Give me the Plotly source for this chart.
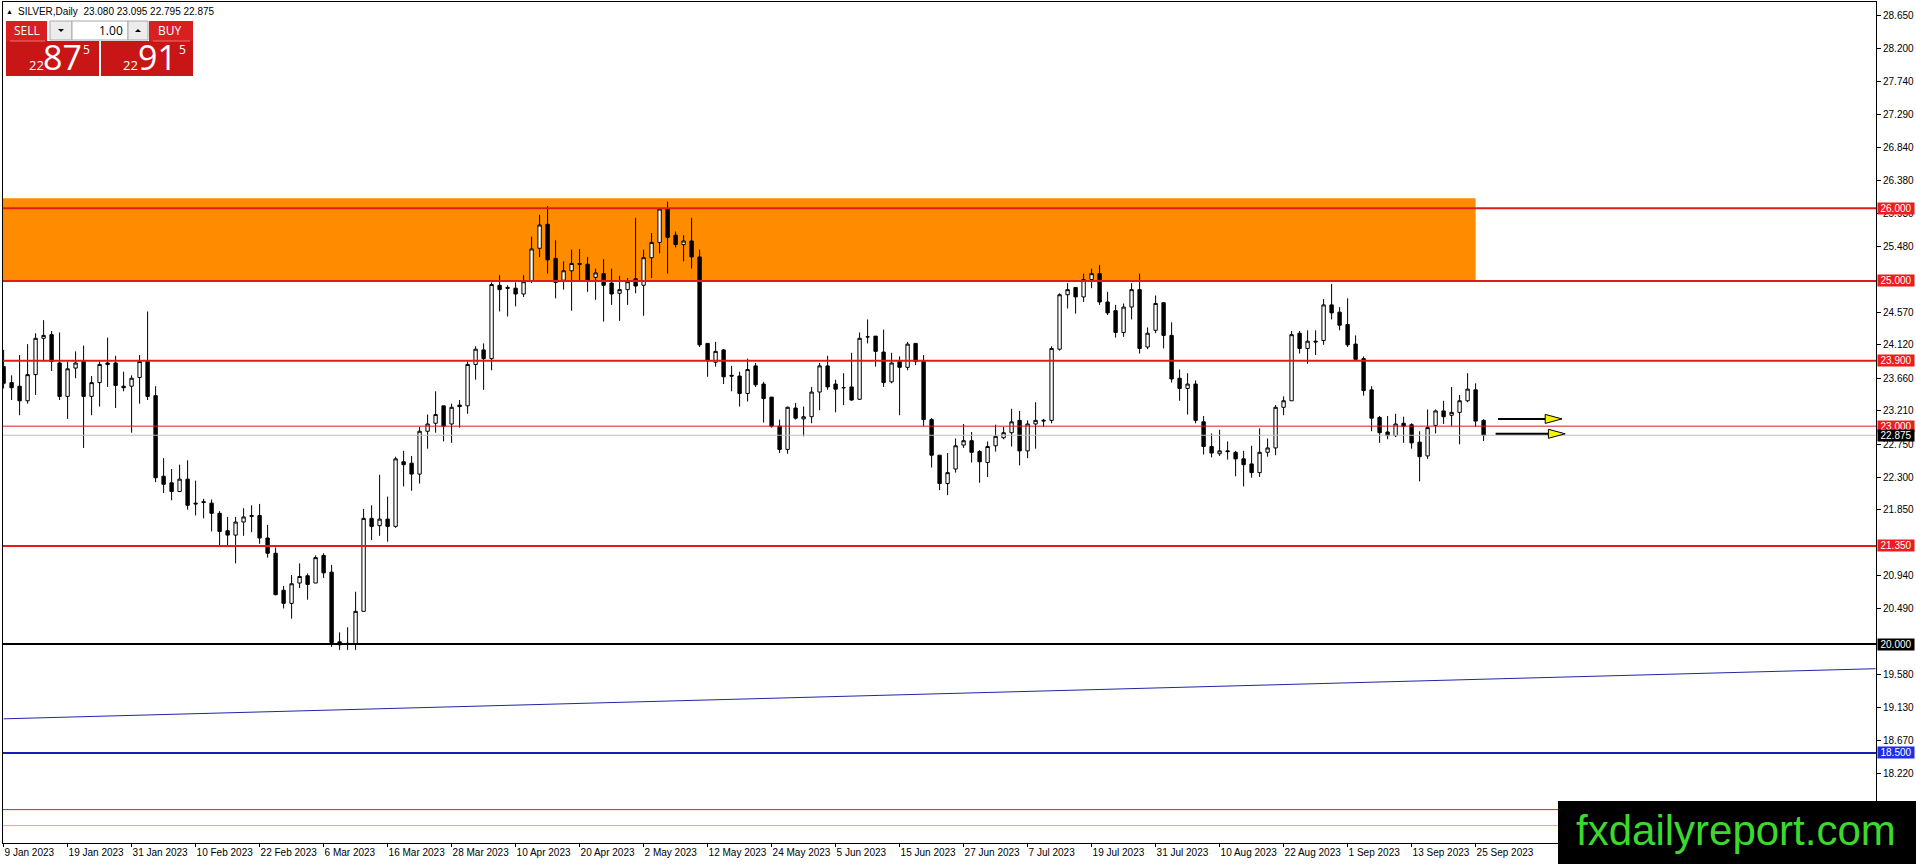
import plotly.graph_objects as go

# ---------------- data ----------------
tick_labels = ["9 Jan 2023", "19 Jan 2023", "31 Jan 2023", "10 Feb 2023", "22 Feb 2023",
               "6 Mar 2023", "16 Mar 2023", "28 Mar 2023", "10 Apr 2023", "20 Apr 2023",
               "2 May 2023", "12 May 2023", "24 May 2023", "5 Jun 2023", "15 Jun 2023",
               "27 Jun 2023", "7 Jul 2023", "19 Jul 2023", "31 Jul 2023", "10 Aug 2023",
               "22 Aug 2023", "1 Sep 2023", "13 Sep 2023", "25 Sep 2023"]
bars_per_label = 8

opens = [23.82, 23.60, 23.55, 23.35, 23.71, 24.21, 24.26, 23.87, 23.41, 23.80,
         23.89, 23.41, 23.60, 23.87, 23.87, 23.55, 23.55, 23.67, 23.89, 23.42,
         22.31, 22.22, 22.10, 22.27, 21.94, 21.96, 21.94, 21.80, 21.56, 21.50,
         21.68, 21.77, 21.77, 21.46, 21.25, 20.74, 20.56, 20.84, 20.94, 20.84,
         21.22, 20.99, 20.03, 20.01, 20.00, 20.45, 21.73, 21.63, 21.72, 21.62,
         22.51, 22.49, 22.34, 22.93, 23.04, 23.28, 23.03, 23.29, 23.28, 23.85,
         24.05, 23.93, 24.94, 24.91, 24.90, 24.82, 25.00, 25.45, 25.78, 25.31,
         25.01, 25.14, 25.24, 25.23, 25.05, 25.10, 24.97, 24.83, 24.88, 25.03,
         24.94, 25.32, 25.53, 25.99, 25.63, 25.50, 25.55, 25.33, 24.14, 23.88,
         24.05, 23.70, 23.69, 23.45, 23.83, 23.58, 23.40, 23.00, 22.68, 23.25,
         23.10, 23.13, 23.47, 23.83, 23.58, 23.53, 23.54, 23.37, 24.23, 24.24,
         24.02, 23.61, 23.89, 23.81, 24.14, 23.89, 23.09, 22.60, 22.21, 22.41,
         22.74, 22.80, 22.65, 22.50, 22.73, 22.84, 22.91, 23.08, 22.66, 23.03,
         23.07, 23.08, 24.06, 24.81, 24.91, 24.78, 25.02, 25.10, 24.71, 24.59,
         24.29, 24.64, 24.88, 24.09, 24.32, 24.70, 24.25, 23.66, 23.52, 23.58,
         23.06, 22.72, 22.62, 22.66, 22.64, 22.55, 22.48, 22.36, 22.64, 22.70,
         23.26, 23.35, 24.28, 24.07, 24.17, 24.18, 24.67, 24.57, 24.40, 24.13,
         23.93, 23.50, 23.12, 22.92, 22.87, 23.04, 23.02, 22.78, 22.59, 23.01,
         23.21, 23.15, 23.19, 23.35, 23.50, 23.080]
highs = [24.05, 23.70, 23.98, 24.13, 24.28, 24.46, 24.31, 24.29, 23.89, 24.03,
         24.11, 23.69, 23.89, 24.22, 23.97, 23.75, 23.70, 23.98, 24.58, 23.55,
         22.56, 22.41, 22.47, 22.53, 22.25, 22.00, 21.99, 21.83, 21.75, 21.75,
         21.87, 21.91, 21.93, 21.64, 21.33, 20.80, 20.95, 21.11, 20.97, 21.22,
         21.25, 21.09, 20.16, 20.23, 20.72, 21.86, 21.91, 22.33, 22.03, 22.58,
         22.66, 22.59, 22.99, 23.16, 23.48, 23.28, 23.31, 23.36, 23.89, 24.10,
         24.14, 24.98, 25.08, 24.94, 24.98, 25.08, 25.61, 25.91, 26.03, 25.56,
         25.27, 25.43, 25.44, 25.33, 25.17, 25.30, 25.17, 25.07, 25.04, 25.87,
         25.43, 25.66, 26.00, 26.09, 25.68, 25.63, 25.87, 25.43, 24.14, 24.16,
         24.06, 23.83, 23.75, 23.93, 23.87, 23.61, 23.40, 23.09, 23.27, 23.32,
         23.27, 23.54, 23.87, 23.97, 23.64, 23.73, 24.01, 24.29, 24.47, 24.24,
         24.33, 24.01, 23.96, 24.16, 24.14, 23.98, 23.11, 22.60, 22.63, 22.83,
         23.03, 22.92, 22.67, 22.79, 23.02, 22.99, 23.24, 23.21, 23.08, 23.33,
         23.10, 24.10, 24.83, 24.97, 24.91, 25.10, 25.17, 25.22, 24.85, 24.67,
         24.69, 24.97, 25.10, 24.36, 24.80, 24.71, 24.43, 23.78, 23.73, 23.63,
         23.14, 22.90, 22.95, 22.79, 22.66, 22.66, 22.73, 22.97, 22.83, 23.29,
         23.41, 24.31, 24.31, 24.32, 24.32, 24.75, 24.96, 24.64, 24.76, 24.25,
         23.96, 23.55, 23.14, 23.14, 23.17, 23.13, 23.04, 22.93, 23.23, 23.23,
         23.35, 23.54, 23.43, 23.73, 23.59, 23.095]
lows = [23.52, 23.36, 23.15, 23.31, 23.43, 23.89, 23.76, 23.36, 23.10, 23.66,
        22.70, 23.15, 23.27, 23.54, 23.25, 23.48, 22.91, 23.31, 23.36, 22.23,
        22.08, 21.98, 22.10, 21.85, 21.77, 21.73, 21.55, 21.35, 21.35, 21.11,
        21.49, 21.54, 21.38, 21.19, 20.67, 20.49, 20.35, 20.77, 20.61, 20.84,
        20.91, 19.96, 19.92, 19.92, 19.92, 20.45, 21.43, 21.49, 21.41, 21.60,
        22.17, 22.11, 22.21, 22.69, 22.91, 22.79, 22.77, 22.98, 23.17, 23.64,
        23.50, 23.77, 24.58, 24.51, 24.65, 24.78, 24.97, 25.33, 25.10, 24.76,
        24.88, 24.59, 25.01, 24.85, 24.74, 24.44, 24.67, 24.45, 24.67, 24.83,
        24.52, 25.04, 25.38, 25.10, 25.46, 25.27, 25.17, 24.09, 23.68, 23.82,
        23.58, 23.48, 23.27, 23.34, 23.54, 23.05, 22.98, 22.63, 22.62, 23.09,
        22.86, 23.04, 23.22, 23.50, 23.19, 23.29, 23.35, 23.36, 24.14, 23.82,
        23.54, 23.59, 23.15, 23.77, 23.84, 23.00, 22.43, 22.12, 22.05, 22.36,
        22.70, 22.50, 22.22, 22.30, 22.65, 22.82, 22.72, 22.46, 22.56, 22.69,
        22.99, 23.04, 24.04, 24.62, 24.55, 24.71, 24.90, 24.67, 24.53, 24.22,
        24.23, 24.47, 24.00, 24.06, 24.28, 24.07, 23.60, 23.35, 23.16, 23.04,
        22.61, 22.57, 22.59, 22.54, 22.31, 22.17, 22.29, 22.30, 22.58, 22.60,
        23.15, 23.35, 24.00, 23.86, 23.98, 24.12, 24.47, 24.32, 24.09, 23.91,
        23.42, 22.93, 22.77, 22.82, 22.85, 22.77, 22.69, 22.24, 22.55, 22.90,
        23.03, 23.00, 22.75, 23.33, 22.99, 22.795]
closes = [23.59, 23.53, 23.35, 23.71, 24.21, 24.25, 23.89, 23.41, 23.79, 23.87,
          23.41, 23.60, 23.85, 23.85, 23.56, 23.53, 23.66, 23.89, 23.41, 22.29,
          22.20, 22.10, 22.27, 21.91, 21.93, 21.95, 21.80, 21.55, 21.50, 21.68,
          21.75, 21.76, 21.46, 21.25, 20.68, 20.56, 20.83, 20.93, 20.82, 21.19,
          20.98, 20.02, 19.99, 20.00, 20.45, 21.73, 21.62, 21.72, 21.62, 22.55,
          22.47, 22.34, 22.93, 23.03, 23.16, 23.00, 23.26, 23.27, 23.85, 24.06,
          23.93, 24.95, 24.88, 24.90, 24.82, 24.99, 25.44, 25.77, 25.29, 24.98,
          25.14, 25.24, 25.23, 25.00, 25.11, 24.94, 24.82, 24.88, 24.99, 24.93,
          25.32, 25.53, 25.99, 25.60, 25.50, 25.55, 25.33, 24.12, 23.90, 24.03,
          23.68, 23.69, 23.45, 23.78, 23.57, 23.38, 23.00, 22.68, 23.26, 23.11,
          23.13, 23.47, 23.83, 23.54, 23.51, 23.53, 23.36, 24.21, 24.23, 24.03,
          23.60, 23.87, 23.81, 24.13, 23.89, 23.09, 22.60, 22.21, 22.36, 22.73,
          22.80, 22.64, 22.51, 22.72, 22.86, 22.91, 23.06, 22.66, 23.03, 23.08,
          23.08, 24.07, 24.81, 24.88, 24.78, 25.02, 25.10, 24.71, 24.56, 24.29,
          24.64, 24.88, 24.07, 24.28, 24.69, 24.25, 23.65, 23.52, 23.58, 23.08,
          22.72, 22.63, 22.66, 22.65, 22.55, 22.47, 22.36, 22.64, 22.70, 23.26,
          23.35, 24.26, 24.07, 24.17, 24.16, 24.67, 24.56, 24.39, 24.12, 23.92,
          23.49, 23.11, 22.91, 22.87, 23.03, 23.00, 22.77, 22.58, 22.98, 23.21,
          23.13, 23.19, 23.35, 23.51, 23.07, 22.875]

y_ticks = [28.65, 28.20, 27.74, 27.29, 26.84, 26.38, 25.93, 25.48, 24.57, 24.12,
           23.66, 23.21, 22.75, 22.30, 21.85, 20.94, 20.49, 19.58, 19.13, 18.67, 18.22]

level_prices = [26.0, 25.0, 23.9, 23.0, 21.35, 20.0, 18.5, 17.72, 17.50]
level_colors = ["#e01b1b", "#e01b1b", "#e01b1b", "#d42020", "#e01b1b", "#000000", "#1a1ab4", "#cc2a22", "#f0b040"]
level_widths = [2, 2, 2, 1, 2, 2, 2, 1, 1]
level_label_bg = ["#ee1c1c", "#ee1c1c", "#ee1c1c", "#ee1c1c", "#ee1c1c", "#000000", "#1f2cf0", None, None]

bid_price = 22.875
ask_price = 22.915
zone_low, zone_high = 25.0, 26.14
zone_end_bar = 184
trend_x = [0, 234]
trend_y = [18.97, 19.66]
arrow_y = [23.10, 22.895]
arrow_start = [186.8, 186.5]
arrow_tip = [194.8, 195.2]

x_range = [-0.075, 234.05]
y_range = [17.26, 28.841]

# ---------------- figure ----------------
W, H = 1916, 864
ML, MR, MT, MB = 3, 40, 2, 21
PW, PH = W - ML - MR, H - MT - MB


def px(x):
    return (x - ML) / PW


def py(y):
    return 1 - (y - MT) / PH


FONT = "Liberation Sans"
idx = list(range(len(opens)))

fig = go.Figure()
fig.add_trace(go.Candlestick(
    x=idx, open=opens, high=highs, low=lows, close=closes,
    increasing=dict(line=dict(color="black", width=1), fillcolor="white"),
    decreasing=dict(line=dict(color="black", width=1), fillcolor="black"),
    whiskerwidth=0, hoverinfo="skip", showlegend=False,
))

shapes = []
# resistance zone
shapes.append(dict(type="rect", xref="x", yref="y", x0=-2, x1=zone_end_bar, y0=zone_low, y1=zone_high,
                   fillcolor="#ff8c00", line=dict(width=0), layer="below"))
# trend line
shapes.append(dict(type="line", xref="x", yref="y", x0=trend_x[0], x1=trend_x[1], y0=trend_y[0], y1=trend_y[1],
                   line=dict(color="#2424a8", width=1), layer="above"))
# bid line
shapes.append(dict(type="line", xref="paper", yref="y", x0=0, x1=1, y0=bid_price, y1=bid_price,
                   line=dict(color="#c0c0c0", width=1), layer="above"))
for p, c, w in zip(level_prices, level_colors, level_widths):
    shapes.append(dict(type="line", xref="paper", yref="y", x0=0, x1=1, y0=p, y1=p,
                       line=dict(color=c, width=w), layer="above"))

# arrows
head_len = 2.1
head_half = 0.062
for yv, xs, xt in zip(arrow_y, arrow_start, arrow_tip):
    xh = xt - head_len
    shapes.append(dict(type="line", xref="x", yref="y", x0=xs, x1=xh, y0=yv, y1=yv,
                       line=dict(color="black", width=2), layer="above"))
    shapes.append(dict(type="path", xref="x", yref="y",
                       path=f"M {xh},{yv + head_half} L {xt},{yv} L {xh},{yv - head_half} Z",
                       fillcolor="#f5f500", line=dict(color="black", width=1), layer="above"))


def prect(x0, y0, x1, y1, fill, lc=None, lw=0):
    return dict(type="rect", xref="paper", yref="paper", x0=px(x0), x1=px(x1), y0=py(y1), y1=py(y0),
                fillcolor=fill, line=dict(color=lc or fill, width=lw), layer="above")


# trade panel
shapes.append(prect(6, 21, 47, 41, "#d82020"))
shapes.append(prect(6, 41, 99, 76, "#c81515"))
shapes.append(prect(149, 21, 193, 41, "#d82020"))
shapes.append(prect(101, 41, 193, 76, "#c81515"))
shapes.append(dict(type="line", xref="paper", yref="paper", x0=px(10), x1=px(45), y0=py(41), y1=py(41),
                   line=dict(color="#f07070", width=1), layer="above"))
shapes.append(dict(type="line", xref="paper", yref="paper", x0=px(153), x1=px(190), y0=py(41), y1=py(41),
                   line=dict(color="#f07070", width=1), layer="above"))
shapes.append(prect(50, 21, 72, 40, "#ececec", "#a8a8a8", 1))
shapes.append(prect(72, 21, 128, 40, "#ffffff", "#a8a8a8", 1))
shapes.append(prect(128, 21, 148, 40, "#ececec", "#a8a8a8", 1))
# spinner arrow glyphs
shapes.append(dict(type="path", xref="paper", yref="paper",
                   path=f"M {px(58)},{py(29)} L {px(64)},{py(29)} L {px(61)},{py(32)} Z",
                   fillcolor="black", line=dict(width=0), layer="above"))
shapes.append(dict(type="path", xref="paper", yref="paper",
                   path=f"M {px(135)},{py(32)} L {px(141)},{py(32)} L {px(138)},{py(29)} Z",
                   fillcolor="black", line=dict(width=0), layer="above"))
# watermark box
shapes.append(prect(1558, 801, 1920, 868, "#000000"))

annotations = []


def ptext(x, y, text, size, color="black", family=FONT, xanchor="center"):
    annotations.append(dict(xref="paper", yref="paper", x=px(x), y=py(y), text=text, showarrow=False,
                            xanchor=xanchor, yanchor="middle", borderpad=0,
                            font=dict(family=family, size=size, color=color)))


# header
ptext(5, 11, "▲", 7, xanchor="left")
ptext(17, 11, f"SILVER,Daily  {opens[-1]:.3f} {highs[-1]:.3f} {lows[-1]:.3f} {closes[-1]:.3f}", 10, xanchor="left")

# panel texts
PF = "Open Sans"
ptext(26.5, 31, "SELL", 12, "white", PF)
ptext(170, 31, "BUY", 12, "white", PF)
ptext(124, 30.5, "1.00", 12, "black", PF, xanchor="right")
bs = f"{bid_price:.3f}"
asx = f"{ask_price:.3f}"
for s, (xa, xb, xc) in ((bs, (36, 62, 86)), (asx, (130, 157, 182))):
    ptext(xa, 65, s[:2], 13, "white", PF)
    ptext(xb, 57, s[3:5], 34, "white", PF)
    ptext(xc, 50, s[5], 12, "white", PF)

# watermark
ptext(1736, 830, "fxdailyreport.com", 42, "#3cd82c", "Liberation Sans")

# level labels on axis
for p, bg in zip(level_prices + [bid_price], level_label_bg + ["#000000"]):
    if bg is None:
        continue
    annotations.append(dict(xref="paper", yref="y", x=1, y=p, xanchor="left", yanchor="middle", xshift=1,
                            text=f"{p:.3f}", showarrow=False, bgcolor=bg, width=36, height=11, borderpad=0,
                            font=dict(family=FONT, size=10, color="white")))

fig.update_layout(
    width=W, height=H,
    margin=dict(l=ML, r=MR, t=MT, b=MB, autoexpand=False),
    paper_bgcolor="white", plot_bgcolor="white",
    showlegend=False, boxgap=0.4,
    shapes=shapes, annotations=annotations,
    xaxis=dict(range=x_range, rangeslider=dict(visible=False), showgrid=False, zeroline=False,
               tickvals=[i * bars_per_label for i in range(len(tick_labels))], ticktext=tick_labels,
               ticks="outside", ticklen=3, tickcolor="black", ticklabelposition="outside right",
               tickangle=0, automargin=False,
               showline=True, linecolor="black", linewidth=1, mirror=True,
               tickfont=dict(family=FONT, size=10, color="black")),
    yaxis=dict(range=y_range, side="right", showgrid=False, zeroline=False, automargin=False,
               tickvals=y_ticks, ticktext=[f"{v:.3f}" for v in y_ticks],
               ticks="outside", ticklen=4, tickcolor="black",
               showline=True, linecolor="black", linewidth=1, mirror=True,
               tickfont=dict(family=FONT, size=10, color="black")),
)

fig.write_html("out.html", config={"displayModeBar": False},
               post_script="document.body.style.margin='0';document.body.style.overflow='hidden';")
